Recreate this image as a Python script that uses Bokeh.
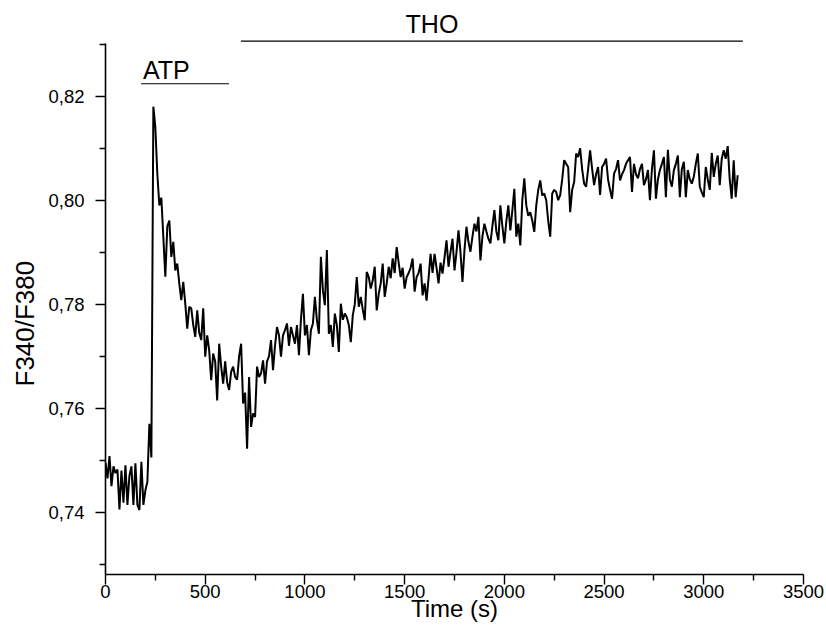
from bokeh.plotting import figure
from bokeh.models import Range1d, FixedTicker, CustomJSTickFormatter, ColumnDataSource, Title
from bokeh.core.properties import value
from bokeh.embed import file_html
from bokeh.resources import INLINE

# ---------------- data ----------------
time_step_s = 10
ratio = [
    0.7495, 0.7465, 0.7508, 0.7450, 0.7488, 0.7475, 0.7482, 0.7405, 0.7480, 0.7418,
    0.7490, 0.7414, 0.7470, 0.7488, 0.7414, 0.7494, 0.7414, 0.7404, 0.7497, 0.7414,
    0.7442, 0.7458, 0.7570, 0.7505, 0.8180, 0.8140, 0.8050, 0.7990, 0.8005, 0.7929,
    0.7853, 0.7950, 0.7961, 0.7891, 0.7920, 0.7865, 0.7878, 0.7840, 0.7808, 0.7843,
    0.7801, 0.7753, 0.7795, 0.7792, 0.7760, 0.7737, 0.7788, 0.7745, 0.7731, 0.7792,
    0.7699, 0.7740, 0.7711, 0.7654, 0.7705, 0.7690, 0.7615, 0.7724, 0.7680, 0.7647,
    0.7690, 0.7650, 0.7635, 0.7670, 0.7680, 0.7660, 0.7655, 0.7700, 0.7724, 0.7609,
    0.7630, 0.7522, 0.7660, 0.7564, 0.7590, 0.7583, 0.7680, 0.7660, 0.7667, 0.7692,
    0.7647, 0.7690, 0.7700, 0.7731, 0.7673, 0.7720, 0.7756, 0.7740, 0.7699, 0.7740,
    0.7750, 0.7763, 0.7720, 0.7756, 0.7740, 0.7724, 0.7760, 0.7702, 0.7770, 0.7820,
    0.7740, 0.7760, 0.7702, 0.7750, 0.7763, 0.7814, 0.7770, 0.7743, 0.7891, 0.7827,
    0.7798, 0.7904, 0.7743, 0.7760, 0.7718, 0.7782, 0.7760, 0.7708, 0.7801, 0.7770,
    0.7782, 0.7775, 0.7760, 0.7727, 0.7779, 0.7800, 0.7852, 0.7795, 0.7814, 0.7790,
    0.7769, 0.7862, 0.7852, 0.7830, 0.7846, 0.7872, 0.7788, 0.7820, 0.7840, 0.7878,
    0.7814, 0.7840, 0.7872, 0.7850, 0.7888, 0.7860, 0.7910, 0.7880, 0.7852, 0.7870,
    0.7830, 0.7852, 0.7860, 0.7870, 0.7888, 0.7824, 0.7852, 0.7860, 0.7878, 0.7817,
    0.7840, 0.7807, 0.7850, 0.7897, 0.7860, 0.7897, 0.7870, 0.7840, 0.7880, 0.7859,
    0.7890, 0.7923, 0.7872, 0.7900, 0.7926, 0.7865, 0.7900, 0.7942, 0.7900, 0.7843,
    0.7904, 0.7949, 0.7920, 0.7901, 0.7930, 0.7955, 0.7940, 0.7968, 0.7884, 0.7930,
    0.7955, 0.7940, 0.7926, 0.7917, 0.7950, 0.7981, 0.7940, 0.7923, 0.7990, 0.7950,
    0.7917, 0.7960, 0.7990, 0.7942, 0.7980, 0.8022, 0.7930, 0.7955, 0.7913, 0.8000,
    0.8042, 0.7990, 0.7970, 0.7977, 0.7961, 0.7939, 0.7990, 0.8020, 0.8038, 0.8009,
    0.8013, 0.8000, 0.7960, 0.7930, 0.8013, 0.8020, 0.8016, 0.8000, 0.8010, 0.8040,
    0.8077, 0.8070, 0.8064, 0.7977, 0.8020, 0.8035, 0.8090, 0.8083, 0.8100, 0.8060,
    0.8032, 0.8026, 0.8060, 0.8096, 0.8061, 0.8029, 0.8050, 0.8064, 0.8010, 0.8064,
    0.8070, 0.8080, 0.8040, 0.8020, 0.8003, 0.8051, 0.8060, 0.8077, 0.8038, 0.8050,
    0.8058, 0.8070, 0.8077, 0.8083, 0.8016, 0.8070, 0.8050, 0.8042, 0.8060, 0.8070,
    0.8029, 0.8040, 0.8058, 0.8000, 0.8060, 0.8096, 0.8003, 0.8040, 0.8058, 0.8070,
    0.8083, 0.8006, 0.8097, 0.8040, 0.8026, 0.8058, 0.8070, 0.8086, 0.8006, 0.8060,
    0.8074, 0.8006, 0.8058, 0.8040, 0.8032, 0.8045, 0.8070, 0.8090, 0.8026, 0.8015,
    0.8006, 0.8064, 0.8040, 0.8020, 0.8091, 0.8045, 0.8070, 0.8086, 0.8029, 0.8080,
    0.8096, 0.8080, 0.8104, 0.8040, 0.8003, 0.8077, 0.8006, 0.8048,
]
time_s = [i * time_step_s for i in range(len(ratio))]

x_ticks = [0, 500, 1000, 1500, 2000, 2500, 3000, 3500]
x_minor = [250, 750, 1250, 1750, 2250, 2750, 3250]
y_ticks = [0.74, 0.76, 0.78, 0.80, 0.82]
y_minor = [0.73, 0.75, 0.77, 0.79, 0.81, 0.83]

# treatment bars: label, start, end, bar level, label x, label y (cap middle)
treat_labels = ["ATP", "THO"]
treat_start = [178, 679]
treat_end = [619, 3196]
treat_level = [0.8224, 0.8306]
treat_label_x = [305, 1637]
treat_label_y = [0.8251, 0.8339]

y_title = "F340/F380"
x_title = "Time (s)"

FONT = "Liberation Sans"

p = figure(
    frame_width=698, frame_height=564,
    min_border_left=105, min_border_right=21, min_border_top=10, min_border_bottom=60,
    x_range=Range1d(0, 3500), y_range=Range1d(0.728, 0.8365),
    output_backend="svg", toolbar_location=None,
)
p.xgrid.visible = False
p.ygrid.visible = False
p.outline_line_color = None
p.background_fill_color = "white"
p.border_fill_color = "white"

p.line(time_s, ratio, line_color="black", line_width=2)

for s, e, lvl in zip(treat_start, treat_end, treat_level):
    p.line([s, e], [lvl, lvl], line_color="black", line_width=1.1)
src = ColumnDataSource(dict(x=treat_label_x, y=treat_label_y, t=treat_labels))
p.text(x="x", y="y", text="t", source=src, text_font=value(FONT),
       text_font_size="25px", text_align="center", text_baseline="middle",
       text_color="black")

# axes
for ax in (p.xaxis[0], p.yaxis[0]):
    ax.axis_line_color = "black"
    ax.axis_line_width = 1.6
    ax.major_tick_line_color = "black"
    ax.minor_tick_line_color = "black"
    ax.major_tick_line_width = 1.4
    ax.minor_tick_line_width = 1.4
    ax.major_tick_in = 0
    ax.minor_tick_in = 0
    ax.major_tick_out = 10
    ax.minor_tick_out = 6
    ax.major_label_text_font = FONT
    ax.major_label_text_font_size = "18.5px"
    ax.major_label_text_color = "black"
    ax.axis_label_text_font = FONT
    ax.axis_label_text_font_style = "normal"
    ax.axis_label_text_color = "black"

p.xaxis.ticker = FixedTicker(ticks=x_ticks, minor_ticks=x_minor)
p.yaxis.ticker = FixedTicker(ticks=y_ticks, minor_ticks=y_minor)
p.yaxis.bounds = (0.728, 0.8301)
p.yaxis.formatter = CustomJSTickFormatter(code="return tick.toFixed(2).replace('.', ',');")
p.xaxis.formatter = CustomJSTickFormatter(code="return tick.toFixed(0);")
p.xaxis.major_label_standoff = 0
p.yaxis.major_label_standoff = 11
p.xaxis.axis_label = x_title
p.xaxis.axis_label_text_font_size = "24px"
p.xaxis.axis_label_standoff = -6

# y title as a left-side title, positioned along the axis like the reference
p.add_layout(Title(text=y_title, align="left", offset=188, text_font=FONT,
                   text_font_size="26px", text_font_style="normal",
                   text_color="black", standoff=12), "left")

open("out.html", "w").write(file_html(p, INLINE))
